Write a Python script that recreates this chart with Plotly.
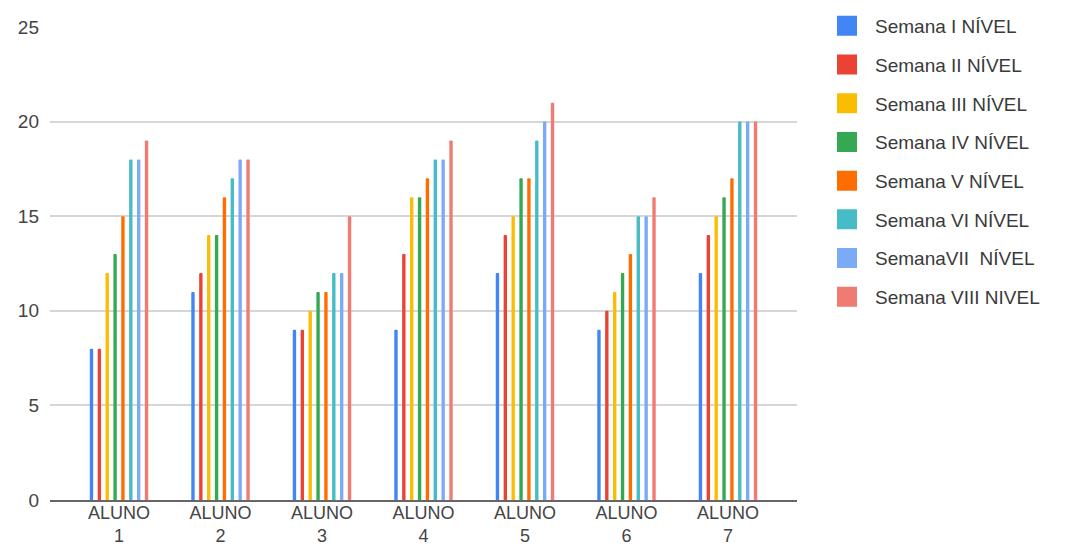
import plotly.graph_objects as go

# Students and weekly level scores
alunos = ["ALUNO<br>1", "ALUNO<br>2", "ALUNO<br>3", "ALUNO<br>4", "ALUNO<br>5", "ALUNO<br>6", "ALUNO<br>7"]

semana_1 = [8, 11, 9, 9, 12, 9, 12]
semana_2 = [8, 12, 9, 13, 14, 10, 14]
semana_3 = [12, 14, 10, 16, 15, 11, 15]
semana_4 = [13, 14, 11, 16, 17, 12, 16]
semana_5 = [15, 16, 11, 17, 17, 13, 17]
semana_6 = [18, 17, 12, 18, 19, 15, 20]
semana_7 = [18, 18, 12, 18, 20, 15, 20]
semana_8 = [19, 18, 15, 19, 21, 16, 20]

series_names = [
    "Semana I NÍVEL",
    "Semana II NÍVEL",
    "Semana III NÍVEL",
    "Semana IV NÍVEL",
    "Semana V NÍVEL",
    "Semana VI NÍVEL",
    "SemanaVII  NÍVEL",
    "Semana VIII NIVEL",
]
series_values = [semana_1, semana_2, semana_3, semana_4, semana_5, semana_6, semana_7, semana_8]
colors = ["#4285F4", "#EA4335", "#FBBC04", "#34A853", "#FF6D01", "#46BDC6", "#7BAAF7", "#F07B72"]

FONT = "Liberation Sans, Arial, sans-serif"

fig = go.Figure()

for name, vals, col in zip(series_names, series_values, colors):
    fig.add_trace(go.Bar(
        x=alunos, y=vals, name=name,
        marker=dict(color=col, line=dict(width=0), cornerradius=2),
        showlegend=False,
    ))

# Legend entries with larger square swatches
for i, (name, col) in enumerate(zip(series_names, colors)):
    fig.add_trace(go.Scatter(
        x=[None], y=[None], mode="markers", name=name,
        legendgroup=f"g{i}",
        marker=dict(symbol="square", size=16, color=col, line=dict(color=col, width=4)),
        showlegend=True,
    ))

fig.update_layout(
    width=1080, height=548,
    margin=dict(l=50, r=283, t=27, b=48, autoexpand=False),
    paper_bgcolor="white", plot_bgcolor="white",
    barmode="group", bargap=0.38, bargroupgap=0.57,
    font=dict(family=FONT, color="#444444"),
    showlegend=True,
    legend=dict(
        xref="container", yref="container",
        x=819 / 1080, y=1 - 7 / 548,
        xanchor="left", yanchor="top",
        font=dict(family=FONT, size=19, color="#3a3a3a"),
        tracegroupgap=11,
        itemwidth=46,
        maxheight=540,
        bgcolor="rgba(0,0,0,0)",
    ),
    xaxis=dict(
        type="category",
        range=[-0.68, 6.68],
        showgrid=False,
        showline=True, linecolor="#666666", linewidth=2,
        ticks="",
        automargin=False,
        ticklabelstandoff=-5,
        tickfont=dict(family=FONT, size=18, color="#444444"),
        fixedrange=True,
    ),
    yaxis=dict(
        range=[0, 25],
        tickvals=[0, 5, 10, 15, 20, 25],
        showgrid=True, gridcolor="#d6d6d6", gridwidth=1.5,
        zeroline=False,
        showline=False,
        ticks="",
        automargin=False,
        ticklabelstandoff=10,
        tickfont=dict(family=FONT, size=19, color="#444444"),
        fixedrange=True,
    ),
)

fig.write_html("out.html")
